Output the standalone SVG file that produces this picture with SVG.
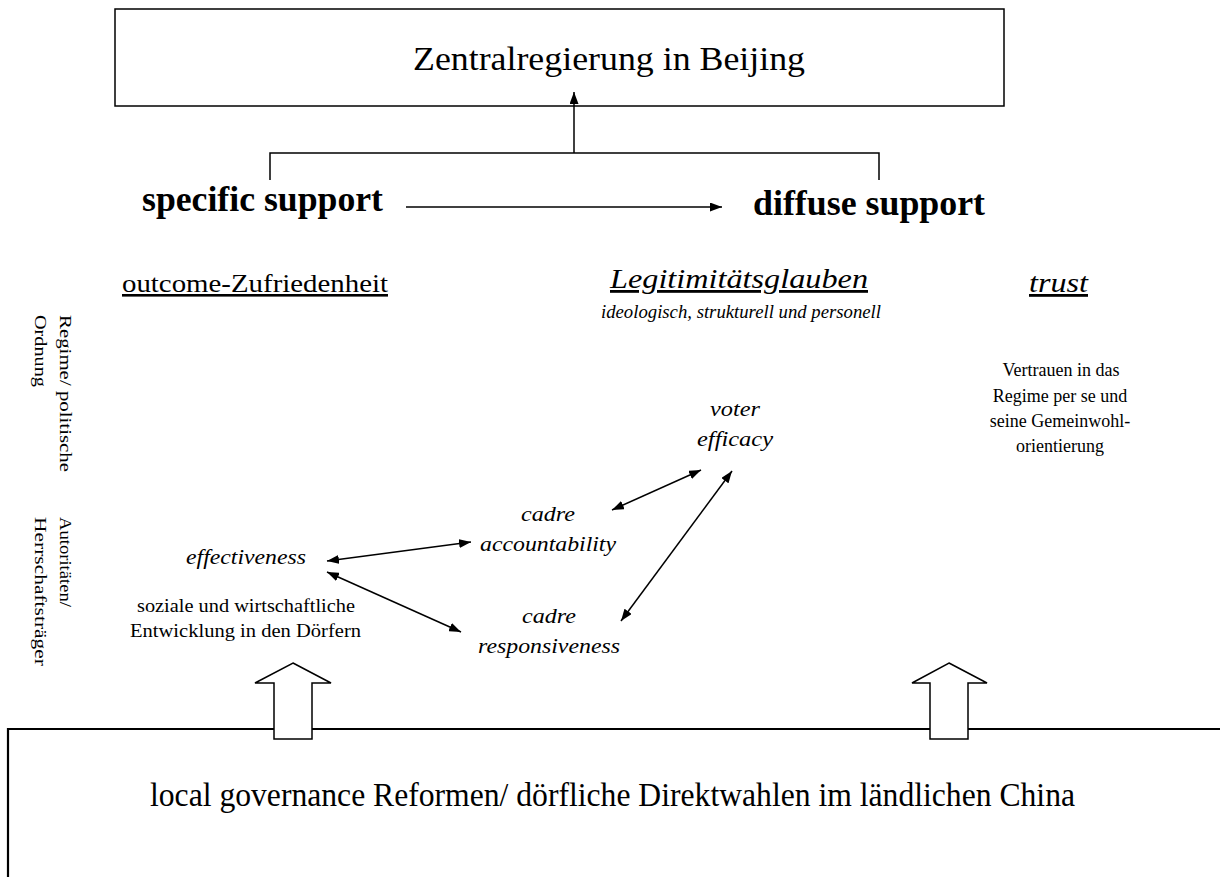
<svg xmlns="http://www.w3.org/2000/svg" width="1220" height="877" viewBox="0 0 1220 877">
<style>
text{font-family:"Liberation Serif","Times New Roman",serif;fill:#000}
.big{font-size:34px}
.bold{font-size:35px;font-weight:bold}
.hd{font-size:26px;text-decoration:underline}
.it{font-style:italic}
.lbl{font-size:22px;font-style:italic}
.sm{font-size:18px}
.vt{font-size:17px}
.ln{stroke:#000;stroke-width:1.5;fill:none}
.blk{fill:#fff;stroke:#000;stroke-width:1.5}
</style>
<defs>
<marker id="ah" viewBox="0 0 12 9" refX="12" refY="4.5" markerWidth="12" markerHeight="9" markerUnits="userSpaceOnUse" orient="auto-start-reverse">
<path d="M0,0 L12,4.5 L0,9 z" fill="#000"/>
</marker>
</defs>
<rect width="1220" height="877" fill="#fff"/>
<g id="central">
<rect x="115" y="9" width="889" height="97" fill="#fff" stroke="#000" stroke-width="1.5"/>
<text class="big" x="413" y="70" textLength="392" lengthAdjust="spacingAndGlyphs">Zentralregierung in Beijing</text>
</g>
<g id="local">
<path d="M8,877 V729 H1222" fill="none" stroke="#000" stroke-width="2.2"/>
<text class="big" x="150" y="806" textLength="925" lengthAdjust="spacingAndGlyphs">local governance Reformen/ dörfliche Direktwahlen im ländlichen China</text>
</g>
<g id="specific"><text class="bold" x="142" y="211" textLength="241" lengthAdjust="spacingAndGlyphs">specific support</text></g>
<g id="diffuse"><text class="bold" x="753" y="215" textLength="232" lengthAdjust="spacingAndGlyphs">diffuse support</text></g>
<g id="outcome"><text class="hd" x="122" y="292" textLength="266" lengthAdjust="spacingAndGlyphs">outcome-Zufriedenheit</text></g>
<g id="legit">
<text class="hd it" x="610" y="288" style="font-size:28px" textLength="258" lengthAdjust="spacingAndGlyphs">Legitimitätsglauben</text>
<text class="sm it" x="601" y="318" textLength="280" lengthAdjust="spacingAndGlyphs">ideologisch, strukturell und personell</text>
</g>
<g id="trust">
<text class="hd it" x="1029" y="292" style="font-size:28px" textLength="59" lengthAdjust="spacingAndGlyphs">trust</text>
<text class="sm" x="1061" y="376" text-anchor="middle">Vertrauen in das</text>
<text class="sm" x="1060" y="402" text-anchor="middle">Regime per se und</text>
<text class="sm" x="1060" y="427" text-anchor="middle">seine Gemeinwohl-</text>
<text class="sm" x="1060" y="452" text-anchor="middle">orientierung</text>
</g>
<g id="regime">
<text class="vt" transform="translate(59.5,315) rotate(90)" textLength="157" lengthAdjust="spacingAndGlyphs">Regime/ politische</text>
<text class="vt" transform="translate(34.5,315) rotate(90)" textLength="72" lengthAdjust="spacingAndGlyphs">Ordnung</text>
</g>
<g id="autoritaeten">
<text class="vt" transform="translate(59.5,517) rotate(90)" textLength="90" lengthAdjust="spacingAndGlyphs">Autoritäten/</text>
<text class="vt" transform="translate(34.5,517) rotate(90)" textLength="149" lengthAdjust="spacingAndGlyphs">Herrschaftsträger</text>
</g>
<g id="effectiveness">
<text class="lbl" x="186" y="564" textLength="120" lengthAdjust="spacingAndGlyphs">effectiveness</text>
<text class="sm" x="137" y="612" textLength="218" lengthAdjust="spacingAndGlyphs">soziale und wirtschaftliche</text>
<text class="sm" x="130" y="637" textLength="231" lengthAdjust="spacingAndGlyphs">Entwicklung in den Dörfern</text>
</g>
<g id="accountability">
<text class="lbl" x="521" y="521" textLength="54" lengthAdjust="spacingAndGlyphs">cadre</text>
<text class="lbl" x="480" y="551" textLength="136" lengthAdjust="spacingAndGlyphs">accountability</text>
</g>
<g id="responsiveness">
<text class="lbl" x="522" y="623" textLength="54" lengthAdjust="spacingAndGlyphs">cadre</text>
<text class="lbl" x="478" y="653" textLength="142" lengthAdjust="spacingAndGlyphs">responsiveness</text>
</g>
<g id="voter">
<text class="lbl" x="710" y="416" textLength="50" lengthAdjust="spacingAndGlyphs">voter</text>
<text class="lbl" x="697" y="446" textLength="76" lengthAdjust="spacingAndGlyphs">efficacy</text>
</g>
<g id="connectors">
<line class="ln" x1="574" y1="153" x2="574" y2="92" marker-end="url(#ah)"/>
<path class="ln" d="M270,180 V153 H879 V180"/>
<line class="ln" x1="406" y1="207" x2="722" y2="207" marker-end="url(#ah)"/>
<line class="ln" x1="327" y1="561" x2="471" y2="542" marker-start="url(#ah)" marker-end="url(#ah)"/>
<line class="ln" x1="327" y1="572" x2="461" y2="632" marker-start="url(#ah)" marker-end="url(#ah)"/>
<line class="ln" x1="612" y1="510" x2="701" y2="470" marker-start="url(#ah)" marker-end="url(#ah)"/>
<line class="ln" x1="621" y1="621" x2="732" y2="471" marker-start="url(#ah)" marker-end="url(#ah)"/>
<path class="blk" d="M293,663 L331,683 H312 V739 H274 V683 H255 Z"/>
<path class="blk" d="M949,663 L987,683 H968 V739 H930 V683 H912 Z"/>
</g>
</svg>
